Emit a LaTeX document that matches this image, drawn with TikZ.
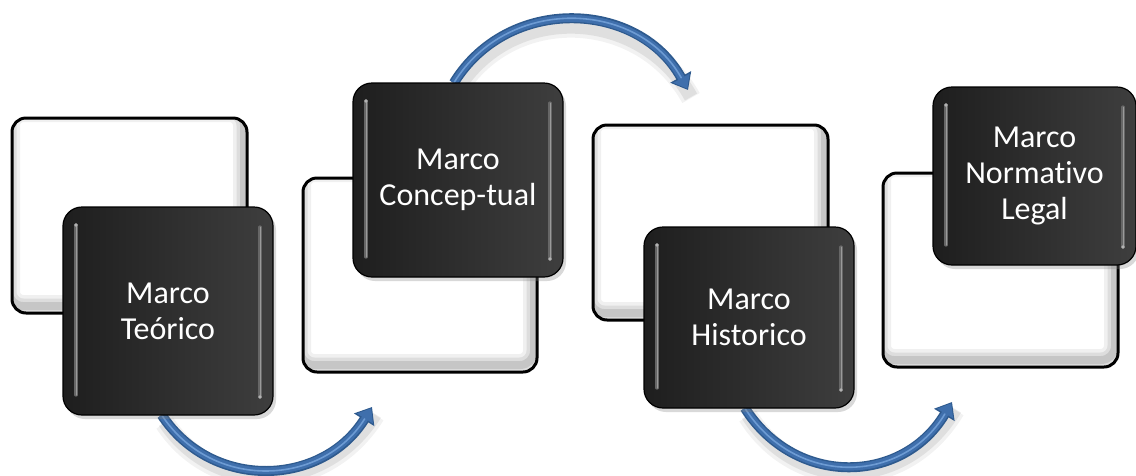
\documentclass[tikz,border=0pt]{standalone}
\usepackage{fontspec}
\setmainfont{Carlito}[Ligatures=NoCommon]
\usetikzlibrary{arrows.meta,shadows,calc,backgrounds}
\definecolor{arrdark}{HTML}{2E5A8E}
\definecolor{arrmid}{HTML}{3F6FAC}
\definecolor{arrlight}{HTML}{6D9BD3}
\definecolor{dkleft}{HTML}{1E1E1E}
\definecolor{dkright}{HTML}{3E3E3E}
\definecolor{hlgray}{HTML}{666666}
\definecolor{hlcoregray}{HTML}{9A9A9A}
\newcommand\wdeco[1]{%
  \begin{scope}
    \clip[rounded corners=14pt] (#1.south west) rectangle (#1.north east);
    \foreach \lw/\op in {22/0.06,15/0.08,8/0.1}{
      \draw[rounded corners=14pt, line width=\lw pt, black, opacity=\op]
        ($(#1.south west)+(-3,-7)$) rectangle ($(#1.north east)+(-3,-7)$);}
  \end{scope}
  \draw[wborder] (#1.south west) rectangle (#1.north east);}
\newcommand\dhl[1]{%
  \draw[hlline] ($(#1.north west)+(13,18)$) -- ($(#1.south west)+(13,-20)$);
  \draw[hlcore] ($(#1.north west)+(13,18)$) -- ($(#1.south west)+(13,-20)$);
  \draw[hlline] ($(#1.north east)+(-13,20)$) -- ($(#1.south east)+(-13,-18)$);
  \draw[hlcore] ($(#1.north east)+(-13,20)$) -- ($(#1.south east)+(-13,-18)$);
  \fill[gray!60] ($(#1.north west)+(13,18)$) circle (1.8);
  \fill[gray!60] ($(#1.south east)+(-13,-18)$) circle (1.8);}
\begin{document}
\begin{tikzpicture}[x=1pt,y=-1pt,
  wbox/.style={fill=white, draw=none, rounded corners=14pt, inner sep=0pt, outer sep=0pt},
  wborder/.style={draw=black, line width=3pt, rounded corners=14pt},
  dbox/.style={draw=black, line width=1.2pt, rounded corners=19pt, left color=dkleft,
    right color=dkright, text=white, align=center, font=\fontsize{32}{36}\selectfont,
    inner sep=0pt, outer sep=0pt,
    drop shadow={shadow xshift=3pt, shadow yshift=-4pt, opacity=0.3}},
  hlline/.style={line width=3.2pt, hlgray, line cap=round},
  hlcore/.style={line width=1pt, hlcoregray, line cap=round},
  arrshadow/.style={line width=14pt, black, opacity=0.08},
  arrbase/.style={line width=10pt, arrdark, -{Triangle[length=15pt,width=23pt]}},
  arrfill/.style={line width=7pt, arrmid, shorten >=1.5pt, -{Triangle[length=12pt,width=18pt]}},
  arrhl/.style={line width=1.6pt, arrlight, shorten >=14pt, line cap=round}
]
\useasboundingbox (0,0) rectangle (1136,475);

% white boxes
\node[wbox, minimum width=235pt, minimum height=195pt] (w1) at (129.5,215.5) {};
\wdeco{w1}
\node[wbox, minimum width=234pt, minimum height=194pt] (w2) at (420,275) {};
\wdeco{w2}
\node[wbox, minimum width=235pt, minimum height=195pt] (w3) at (710.5,222.5) {};
\wdeco{w3}
\node[wbox, minimum width=235pt, minimum height=194pt] (w4) at (1000.5,270) {};
\wdeco{w4}

% dark boxes
\node[dbox, minimum width=210pt, minimum height=208pt] (d1) at (168,311) {Marco\\Teórico};
\dhl{d1}
\node[dbox, minimum width=210pt, minimum height=194pt] (d2) at (458,180) {Marco\\Concep-tual};
\dhl{d2}
\node[dbox, minimum width=210pt, minimum height=181pt] (d3) at (749,317.5) {Marco\\Historico};
\dhl{d3}
\node[dbox, minimum width=203pt, minimum height=178pt] (d4) at (1034.5,176) {Marco\\Normativo\\Legal};
\dhl{d4}

% arrow anchors
\coordinate (s1) at ($(d1.south west)!0.47!(d1.south east)$);
\coordinate (e1) at (372,407);
\coordinate (s2) at ($(d2.north west)!0.48!(d2.north east)$);
\coordinate (e2) at (688,90);
\coordinate (s3) at ($(d3.south west)!0.48!(d3.south east)$);
\coordinate (e3) at (952,402);

\begin{scope}[on background layer]
  \foreach \s/\e/\ax/\ay/\bx/\by in {s1/e1/51/77/-49/79, s2/e2/54/-88/-50/-90, s3/e3/51/80/-49/82}{
    \draw[arrshadow] ($(\s)+(3,7)$) .. controls ($(\s)+(\ax+3,\ay+7)$) and ($(\e)+(\bx+3,\by+7)$) .. ($(\e)+(3,7)$);
    \draw[arrshadow, line width=20pt, opacity=0.05] ($(\s)+(3,8)$) .. controls ($(\s)+(\ax+3,\ay+8)$) and ($(\e)+(\bx+3,\by+8)$) .. ($(\e)+(3,8)$);
    \draw[arrbase] (\s) .. controls ($(\s)+(\ax,\ay)$) and ($(\e)+(\bx,\by)$) .. (\e);
    \draw[arrfill] (\s) .. controls ($(\s)+(\ax,\ay)$) and ($(\e)+(\bx,\by)$) .. (\e);
    \draw[arrhl] (\s) .. controls ($(\s)+(\ax,\ay)$) and ($(\e)+(\bx,\by)$) .. (\e);
  }
\end{scope}
\end{tikzpicture}
\end{document}
